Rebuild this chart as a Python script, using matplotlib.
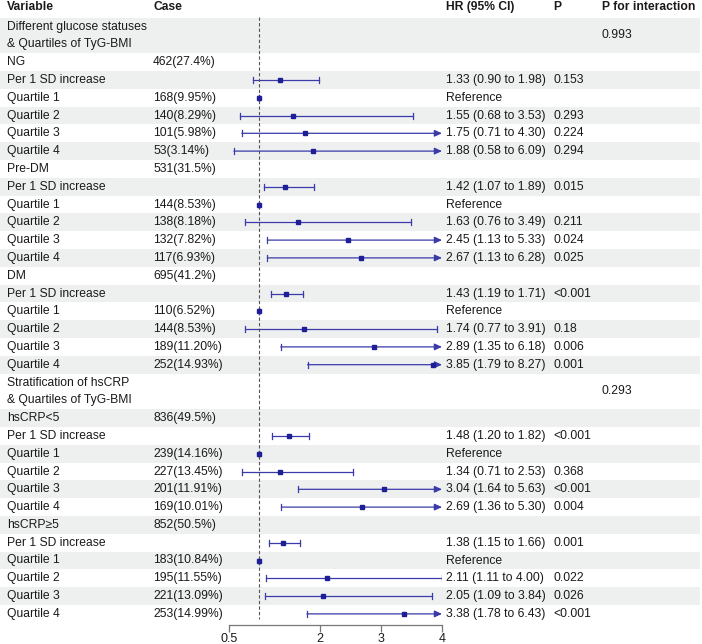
import numpy as np
import matplotlib.pyplot as plt

plt.rcParams['font.family'] = ['Liberation Sans', 'DejaVu Sans']

nan = np.nan

# table data
variables = ["Different glucose statuses\n& Quartiles of TyG-BMI",
             "NG", "Per 1 SD increase", "Quartile 1", "Quartile 2", "Quartile 3", "Quartile 4",
             "Pre-DM", "Per 1 SD increase", "Quartile 1", "Quartile 2", "Quartile 3", "Quartile 4",
             "DM", "Per 1 SD increase", "Quartile 1", "Quartile 2", "Quartile 3", "Quartile 4",
             "Stratification of hsCRP\n& Quartiles of TyG-BMI",
             "hsCRP<5", "Per 1 SD increase", "Quartile 1", "Quartile 2", "Quartile 3", "Quartile 4",
             "hsCRP\u22655", "Per 1 SD increase", "Quartile 1", "Quartile 2", "Quartile 3", "Quartile 4"]
cases = ["",
         "462(27.4%)", "", "168(9.95%)", "140(8.29%)", "101(5.98%)", "53(3.14%)",
         "531(31.5%)", "", "144(8.53%)", "138(8.18%)", "132(7.82%)", "117(6.93%)",
         "695(41.2%)", "", "110(6.52%)", "144(8.53%)", "189(11.20%)", "252(14.93%)",
         "",
         "836(49.5%)", "", "239(14.16%)", "227(13.45%)", "201(11.91%)", "169(10.01%)",
         "852(50.5%)", "", "183(10.84%)", "195(11.55%)", "221(13.09%)", "253(14.99%)"]
hr = [nan,
      nan, 1.33, 1.00, 1.55, 1.75, 1.88,
      nan, 1.42, 1.00, 1.63, 2.45, 2.67,
      nan, 1.43, 1.00, 1.74, 2.89, 3.85,
      nan,
      nan, 1.48, 1.00, 1.34, 3.04, 2.69,
      nan, 1.38, 1.00, 2.11, 2.05, 3.38]
lower = [nan,
         nan, 0.90, 1.00, 0.68, 0.71, 0.58,
         nan, 1.07, 1.00, 0.76, 1.13, 1.13,
         nan, 1.19, 1.00, 0.77, 1.35, 1.79,
         nan,
         nan, 1.20, 1.00, 0.71, 1.64, 1.36,
         nan, 1.15, 1.00, 1.11, 1.09, 1.78]
upper = [nan,
         nan, 1.98, 1.00, 3.53, 4.30, 6.09,
         nan, 1.89, 1.00, 3.49, 5.33, 6.28,
         nan, 1.71, 1.00, 3.91, 6.18, 8.27,
         nan,
         nan, 1.82, 1.00, 2.53, 5.63, 5.30,
         nan, 1.66, 1.00, 4.00, 3.84, 6.43]
p_value = ["",
           "", "0.153", "", "0.293", "0.224", "0.294",
           "", "0.015", "", "0.211", "0.024", "0.025",
           "", "<0.001", "", "0.18", "0.006", "0.001",
           "",
           "", "<0.001", "", "0.368", "<0.001", "0.004",
           "", "0.001", "", "0.022", "0.026", "<0.001"]
p_interaction = {0: "0.993", 19: "0.293"}
xticks = [0.5, 2, 3, 4]

W, H = 702, 644
line_h = 17.8
y_first = 26.5
axis_y = 625
shade = '#eef0f0'
line_col = '#3a3aa8'
mark_col = '#1e1e96'
txt = '#1a1a1a'
fs = 8.7

fig = plt.figure(figsize=(7.02, 6.44), dpi=100)
bg = fig.add_axes([0, 0, 1, 1])
bg.set_xlim(0, W)
bg.set_ylim(H, 0)
bg.axis('off')

ax = fig.add_axes([229 / W, 1 - axis_y / H, 213 / W, axis_y / H])
ax.set_facecolor('none')
ax.set_xlim(0.5, 4)
ax.set_ylim(axis_y, 0)

# header
for x, s in [(7, "Variable"), (153, "Case"), (446, "HR (95% CI)"), (553, "P"), (602, "P for interaction")]:
    bg.text(x, 7, s, fontsize=fs, fontweight='bold', va='center', ha='left', color=txt)

line = 0
for i, var in enumerate(variables):
    parts = var.split("\n")
    n = len(parts)
    top = y_first + line * line_h - line_h / 2
    bottom = y_first + (line + n - 1) * line_h + line_h / 2
    yc = (top + bottom) / 2
    if i % 2 == 0:
        bg.fill_between([0, 700], top, bottom, color=shade, lw=0, zorder=0)
    for k, p in enumerate(parts):
        bg.text(7, y_first + (line + k) * line_h, p, fontsize=fs, va='center', color=txt)
    if cases[i]:
        bg.text(153, yc, cases[i], fontsize=fs, va='center', color=txt)
    if not np.isnan(hr[i]):
        if hr[i] == 1 and lower[i] == 1 and upper[i] == 1:
            bg.text(446, yc, "Reference", fontsize=fs, va='center', color=txt)
        else:
            bg.text(446, yc, f"{hr[i]:.2f} ({lower[i]:.2f} to {upper[i]:.2f})",
                    fontsize=fs, va='center', color=txt)
        hi = min(upper[i], 4)
        if upper[i] > 4:
            ax.annotate('', xy=(4, yc), xytext=(lower[i], yc),
                        arrowprops=dict(arrowstyle='-|>,head_length=0.55,head_width=0.25',
                                        color=line_col, lw=0.9, shrinkA=0, shrinkB=0,
                                        mutation_scale=8))
            ax.plot([lower[i]] * 2, [yc - 3, yc + 3], color=line_col, lw=0.9)
        else:
            ax.plot([lower[i], hi], [yc, yc], color=line_col, lw=0.9)
            ax.plot([lower[i]] * 2, [yc - 3, yc + 3], color=line_col, lw=0.9)
            ax.plot([hi] * 2, [yc - 3, yc + 3], color=line_col, lw=0.9)
        ax.plot(hr[i], yc, 's', color=mark_col, ms=3.4, zorder=5)
    if p_value[i]:
        bg.text(553, yc, p_value[i], fontsize=fs, va='center', color=txt)
    if i in p_interaction:
        bg.text(602, yc, p_interaction[i], fontsize=fs, va='center', color=txt)
    line += n

# reference line at HR = 1
ax.vlines(1, 17, 619, colors='#555555', linestyles=(0, (3, 2)), lw=0.8)

for s in ['top', 'right', 'left']:
    ax.spines[s].set_visible(False)
ax.spines['bottom'].set_color('#777777')
ax.spines['bottom'].set_linewidth(0.9)
ax.set_yticks([])
ax.set_xticks(xticks)
ax.set_xticklabels(["0.5", "2", "3", "4"])
ax.tick_params(axis='x', direction='out', length=5, width=0.9, color='#777777',
               labelsize=9, labelcolor=txt, pad=1)

fig.savefig('out.png', dpi=100)
